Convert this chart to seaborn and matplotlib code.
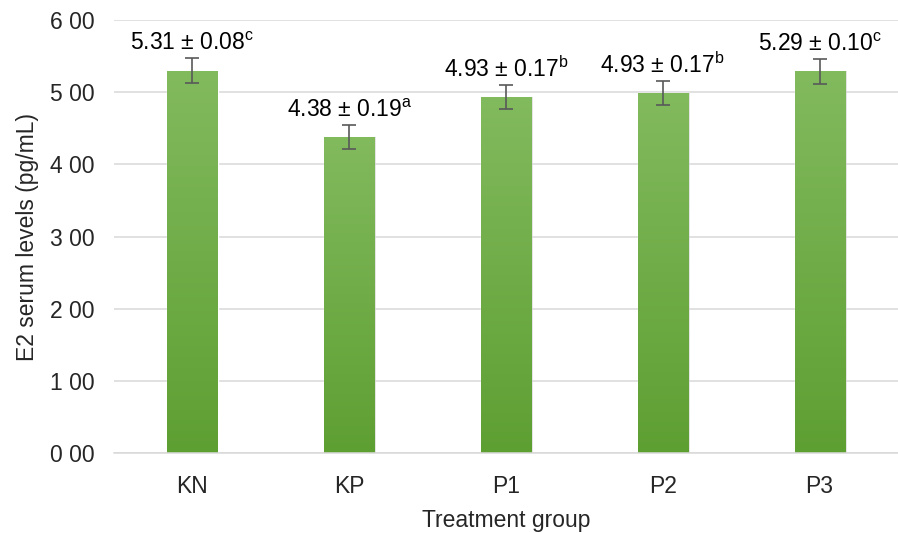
import numpy as np
import pandas as pd
import matplotlib
matplotlib.use('Agg')
import matplotlib.pyplot as plt
import seaborn as sns

# Data
groups = ['KN', 'KP', 'P1', 'P2', 'P3']
e2_level = [5.30, 4.38, 4.93, 4.99, 5.29]
err = [0.17, 0.17, 0.17, 0.17, 0.17]
label_mean = ['5.31', '4.38', '4.93', '4.93', '5.29']
label_sd = ['0.08', '0.19', '0.17', '0.17', '0.10']
letters = ['c', 'a', 'b', 'b', 'c']
ytick_labels = ['0 00', '1 00', '2 00', '3 00', '4 00', '5 00', '6 00']

df = pd.DataFrame({'group': groups, 'e2': e2_level})

sns.set_style('white')
plt.rcParams['font.family'] = ['Liberation Sans', 'DejaVu Sans']
plt.rcParams['mathtext.fontset'] = 'custom'
plt.rcParams['mathtext.rm'] = 'Liberation Sans'

fig = plt.figure(figsize=(8.98, 5.33), dpi=100)
ax = fig.add_axes([0.127, 0.150, 0.873, 0.8125])

sns.barplot(x='group', y='e2', data=df, color='#70AD47', width=0.32,
            errorbar=None, ax=ax, zorder=2)

# gradient fill for the bars (light top, darker bottom)
grad = np.linspace(0, 1, 256).reshape(-1, 1)
cmap = matplotlib.colors.LinearSegmentedColormap.from_list('g', ['#82BA5E', '#5E9F32'])
for p in ax.patches:
    x0, y0 = p.get_x(), p.get_y()
    w, h = p.get_width(), p.get_height()
    # soft shadow
    sh = plt.Rectangle((x0 + 0.006, y0), w + 0.006, h, color='#bfbfbf', alpha=0.5,
                       zorder=1.5, lw=0)
    ax.add_patch(sh)
    im = ax.imshow(grad, extent=(x0, x0 + w, y0, y0 + h), aspect='auto',
                   cmap=cmap, zorder=2.5, origin='upper')
    im.set_clip_path(p)

ax.errorbar(range(len(groups)), e2_level, yerr=err, fmt='none', ecolor='#595959',
            elinewidth=1.2, capsize=4.7, capthick=1.2, zorder=4)

for i in range(len(groups)):
    txt = f"{label_mean[i]} ± {label_sd[i]}$^{{\\mathregular{{{letters[i]}}}}}$"
    ax.text(i, e2_level[i] + err[i] + 0.04, txt, ha='center', va='bottom',
            fontsize=16.5, color='black', zorder=5)

ax.set_ylim(0, 6)
ax.set_xlim(-0.5, 4.455)
ax.set_yticks(range(7))
ax.set_yticklabels(ytick_labels)
ax.yaxis.grid(True, color='#d9d9d9', lw=1.1)
ax.set_axisbelow(True)

for s in ['top', 'right', 'left']:
    ax.spines[s].set_visible(False)
ax.spines['bottom'].set_color('#d9d9d9')
ax.spines['bottom'].set_linewidth(1.1)

ax.set_xticks(np.arange(-0.5, 5, 1), minor=True)
ax.tick_params(axis='x', which='minor', length=5, color='#d9d9d9', width=1.1)
ax.tick_params(axis='x', which='major', length=0, pad=16, labelsize=16.5)
ax.tick_params(axis='y', length=0, pad=14, labelsize=16.5)

ax.set_xlabel('Treatment group', fontsize=16.5, labelpad=8)
ax.set_ylabel('E2 serum levels (pg/mL)', fontsize=16.5, labelpad=8)

fig.savefig('out.png', dpi=100)
